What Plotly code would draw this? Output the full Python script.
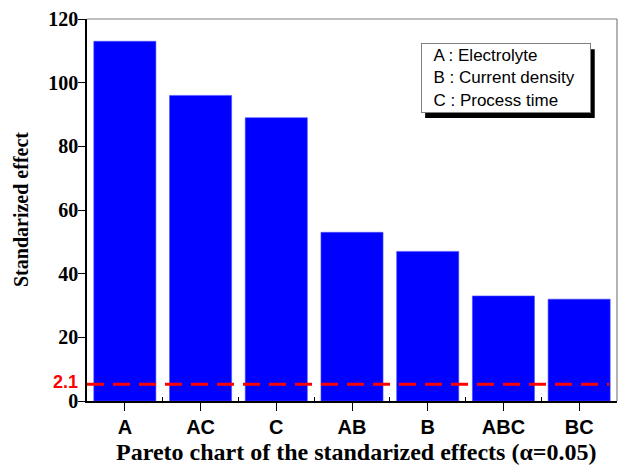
import plotly.graph_objects as go

# ---- data ----
categories = ["A", "AC", "C", "AB", "B", "ABC", "BC"]
effects = [113, 96, 89, 53, 47, 33, 32]
y_ticks = [0, 20, 40, 60, 80, 100, 120]
threshold_label = "2.1"
threshold_plot_y = 5.3
legend_lines = ["A : Electrolyte", "B : Current density", "C : Process time"]
x_title = "Pareto chart of the standarized effects (\u03b1=0.05)"
y_title = "Standarized effect"

serif = "Liberation Serif"
sans = "Liberation Sans"

fig = go.Figure()
fig.add_trace(go.Bar(
    x=categories, y=effects,
    marker=dict(color="#0000ff", line=dict(color="#4d4dff", width=0.6)),
    width=0.82, showlegend=False, hoverinfo="skip",
))
# invisible trace to carry the minor-tick overlay axis
fig.add_trace(go.Scatter(x=[-0.5, 6.5], y=[0, 0], xaxis="x2", yaxis="y",
                         mode="markers", marker=dict(opacity=0), showlegend=False,
                         hoverinfo="skip"))

fig.update_layout(
    width=623, height=465,
    margin=dict(l=87, r=6, t=19, b=64),
    plot_bgcolor="white", paper_bgcolor="white",
    xaxis=dict(
        type="category", range=[-0.5, 6.5], automargin=False,
        showline=True, linecolor="black", linewidth=1.5,
        ticks="outside", ticklen=8, tickwidth=1.2, tickcolor="black",
        tickfont=dict(family=sans, size=20, color="black", weight="bold"),
        ticklabelstandoff=-1,
        showgrid=False, zeroline=False,
    ),
    xaxis2=dict(
        overlaying="x", anchor="y", side="bottom", range=[-0.5, 6.5],
        automargin=False,
        tickmode="array", tickvals=[0.5, 1.5, 2.5, 3.5, 4.5, 5.5],
        ticks="inside", ticklen=4, tickwidth=1, tickcolor="black",
        showticklabels=False, showgrid=False, zeroline=False, showline=False,
    ),
    yaxis=dict(
        range=[0, 120], tickmode="array", tickvals=y_ticks, automargin=False,
        showline=True, linecolor="black", linewidth=1.5,
        ticks="outside", ticklen=7, tickwidth=1.2, tickcolor="black",
        tickfont=dict(family=serif, size=20, color="black", weight="bold"),
        ticklabelstandoff=-4,
        showgrid=False, zeroline=False,
    ),
    bargap=0.18,
)

# frame top/right (gray)
fig.add_shape(type="line", xref="paper", yref="paper", x0=0, x1=1, y0=1, y1=1,
              line=dict(color="#808080", width=1.2))
fig.add_shape(type="line", xref="paper", yref="paper", x0=1, x1=1, y0=0, y1=1,
              line=dict(color="#808080", width=1.2))

# threshold dashed line
fig.add_shape(type="line", xref="paper", yref="y", x0=0, x1=0.985,
              y0=threshold_plot_y, y1=threshold_plot_y,
              line=dict(color="#ff0000", width=3, dash="17px,9px"))
fig.add_annotation(xref="paper", yref="y", x=0, y=threshold_plot_y,
                   text=threshold_label, showarrow=False, xanchor="right",
                   xshift=-7, yshift=2,
                   font=dict(family=sans, size=18, color="#ff0000", weight="bold"))

# legend box with shadow
fig.add_shape(type="rect", xref="paper", yref="paper",
              x0=0.638, x1=0.958, y0=0.741, y1=0.921,
              fillcolor="black", line=dict(width=0), layer="above")
legend_text = "<br>".join("\u00a0\u00a0" + s for s in legend_lines)
fig.add_annotation(text=legend_text, xref="paper", yref="paper", x=0.630, y=0.937,
                   xanchor="left", yanchor="top", showarrow=False, align="left",
                   width=164, height=64, borderpad=2, borderwidth=1,
                   bgcolor="white", bordercolor="#808080",
                   font=dict(family=sans, size=17, color="black"))

# axis titles
fig.add_annotation(xref="paper", yref="paper", x=0.508, y=0, yshift=-51,
                   text=x_title, showarrow=False, xanchor="center", yanchor="middle",
                   font=dict(family=serif, size=24, color="black", weight="bold"))
fig.add_annotation(xref="paper", yref="paper", x=0, xshift=-66, y=0.5,
                   text=y_title, showarrow=False, textangle=-90,
                   xanchor="center", yanchor="middle",
                   font=dict(family=serif, size=20, color="black", weight="bold"))

fig.write_html("out.html", config={"displayModeBar": False},
               post_script="document.body.style.margin='0';")
